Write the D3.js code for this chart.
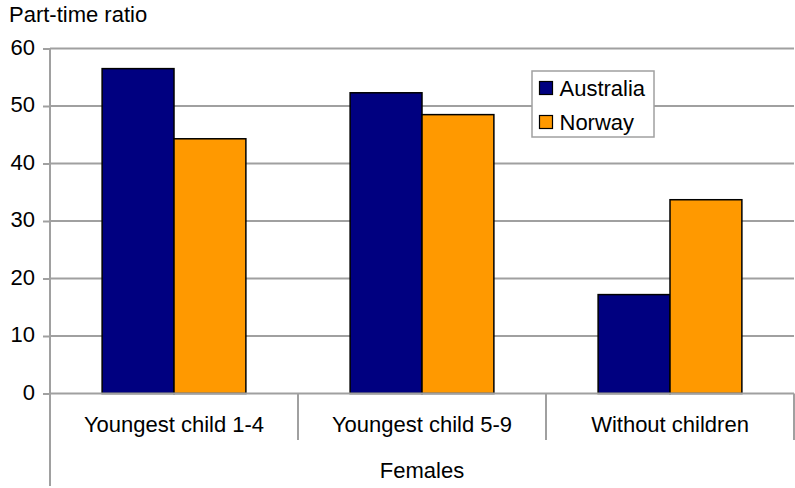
<!DOCTYPE html>
<html>
<head>
<meta charset="utf-8">
<script src="https://cdn.jsdelivr.net/npm/d3@7"></script>
<style>
  html, body { margin: 0; padding: 0; background: #fff; }
  svg { display: block; font-family: "Liberation Sans", Arial, sans-serif; }
</style>
</head>
<body>
<svg id="chart" width="795" height="488"></svg>
<script>
// Part-time ratio of females by family situation
const categories = ["Youngest child 1-4", "Youngest child 5-9", "Without children"];
const seriesNames = ["Australia", "Norway"];
const australia = [56.5, 52.3, 17.2];
const norway = [44.3, 48.5, 33.7];
const yTicks = [0, 10, 20, 30, 40, 50, 60];
const groupLabel = "Females";
const yTitle = "Part-time ratio";
const colors = ["#000080", "#ff9900"];

const FONT = 22;
const svg = d3.select("#chart");
const plotLeft = 50, plotRight = 794, plotTop = 48.5, plotBottom = 393.5;

const x = d3.scaleBand().domain(categories).range([plotLeft, plotRight]).paddingInner(0).paddingOuter(0);
const xs = d3.scaleBand().domain(seriesNames).range([0, x.bandwidth()]).paddingInner(0).paddingOuter(0.725);
const y = d3.scaleLinear().domain([0, 60]).range([plotBottom, plotTop]);

// horizontal gridlines
svg.append("g").selectAll("line").data(yTicks.filter(d => d > 0)).join("line")
  .attr("x1", plotLeft).attr("x2", plotRight)
  .attr("y1", d => y(d)).attr("y2", d => y(d))
  .attr("stroke", "#a0a0a0").attr("stroke-width", 2);

// bars
const rows = categories.map((c, i) => ({ c, vals: [australia[i], norway[i]] }));
const groups = svg.append("g").selectAll("g").data(rows).join("g")
  .attr("transform", d => `translate(${x(d.c)},0)`);
groups.selectAll("rect").data(d => d.vals.map((v, j) => ({ name: seriesNames[j], v, j }))).join("rect")
  .attr("x", d => xs(d.name))
  .attr("y", d => y(d.v))
  .attr("width", xs.bandwidth())
  .attr("height", d => y(0) - y(d.v))
  .attr("fill", d => colors[d.j])
  .attr("stroke", "#000").attr("stroke-width", 1.5);

// y axis
const yAxis = d3.axisLeft(y).tickValues(yTicks).tickSize(7).tickPadding(8);
const gy = svg.append("g").attr("transform", `translate(${plotLeft},0)`).call(yAxis);
gy.select(".domain").remove();
gy.selectAll(".tick line").attr("stroke", "#a0a0a0").attr("stroke-width", 2);
gy.selectAll(".tick text").attr("font-size", FONT).attr("fill", "#000")
  .attr("font-family", "Liberation Sans, Arial, sans-serif").attr("dy", "0.25em");
svg.append("line").attr("x1", plotLeft).attr("x2", plotLeft).attr("y1", plotTop).attr("y2", 486)
  .attr("stroke", "#a0a0a0").attr("stroke-width", 2);

// x axis baseline and category separators
svg.append("line").attr("x1", plotLeft).attr("x2", plotRight).attr("y1", y(0)).attr("y2", y(0))
  .attr("stroke", "#a0a0a0").attr("stroke-width", 2);
const bounds = categories.slice(1).map(c => x(c)).concat([plotRight]);
svg.append("g").selectAll("line").data(bounds).join("line")
  .attr("x1", d => d).attr("x2", d => d)
  .attr("y1", y(0)).attr("y2", 440)
  .attr("stroke", "#a0a0a0").attr("stroke-width", 2);

svg.append("g").selectAll("text").data(categories).join("text")
  .attr("x", d => x(d) + x.bandwidth() / 2)
  .attr("y", 432)
  .attr("text-anchor", "middle")
  .attr("font-size", FONT)
  .text(d => d);

svg.append("text").attr("x", (plotLeft + plotRight) / 2).attr("y", 478)
  .attr("text-anchor", "middle").attr("font-size", FONT).text(groupLabel);

svg.append("text").attr("x", 9).attr("y", 22).attr("font-size", FONT).text(yTitle);

// legend
const lg = svg.append("g").attr("transform", "translate(532,71)");
lg.append("rect").attr("x", 0).attr("y", 0).attr("width", 122).attr("height", 66)
  .attr("fill", "#fff").attr("stroke", "#a0a0a0").attr("stroke-width", 1.5);
const items = lg.selectAll("g").data(seriesNames).join("g")
  .attr("transform", (d, i) => `translate(7.5,${10.5 + i * 34})`);
items.append("rect").attr("width", 13).attr("height", 13)
  .attr("fill", (d, i) => colors[i]).attr("stroke", "#000").attr("stroke-width", 1.2);
items.append("text").attr("x", 20).attr("y", 14.5).attr("font-size", FONT).text(d => d);
</script>
</body>
</html>
